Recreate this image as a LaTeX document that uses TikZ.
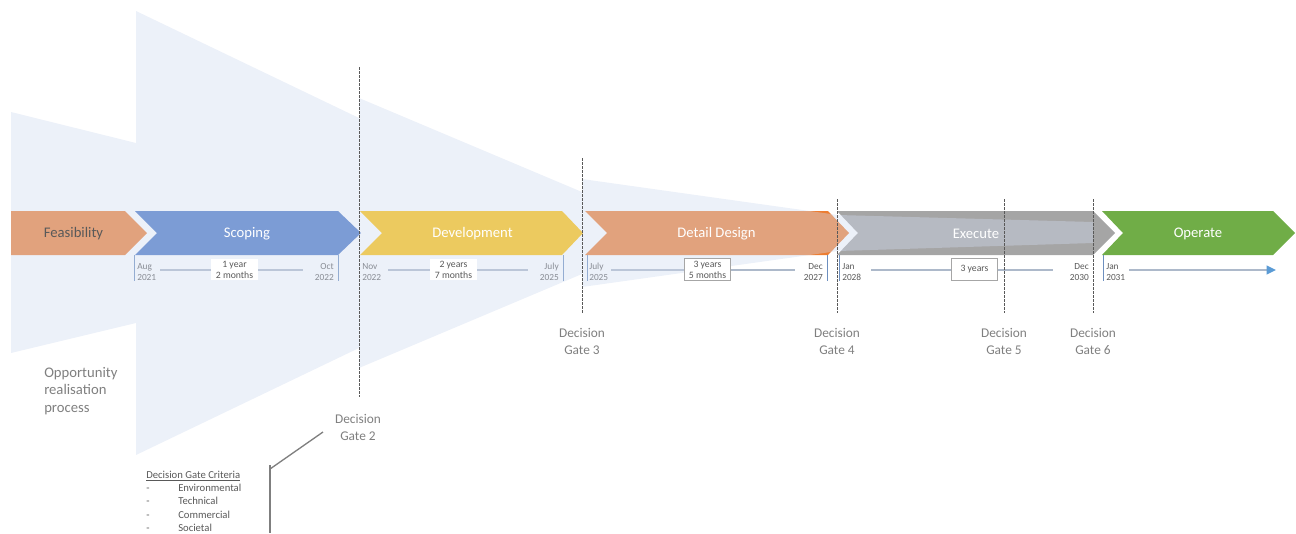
\documentclass[tikz,border=0pt]{standalone}
\usepackage{fontspec}
\setmainfont{Carlito}
\usetikzlibrary{arrows.meta}
\definecolor{cOrange}{HTML}{ED7D31}
\definecolor{cBlue}{HTML}{4472C4}
\definecolor{cGold}{HTML}{FFC000}
\definecolor{cGray}{HTML}{A5A5A5}
\definecolor{cGreen}{HTML}{70AD47}
\definecolor{cVeil}{HTML}{D0DBEF}
\definecolor{cText}{HTML}{595959}
\definecolor{cLabel}{HTML}{7F7F7F}
\definecolor{cLine}{HTML}{ADB9CA}
\definecolor{cTick}{HTML}{6D8FBF}
\definecolor{cArrow}{HTML}{5B9BD5}
\definecolor{cBoxEdge}{HTML}{A6A6A6}
\tikzset{
  phase/.style={font=\fontsize{11}{13}\selectfont, text=white, inner sep=0},
  datel/.style={font=\fontsize{7}{8.3}\selectfont, text=cText, align=left, anchor=west, inner sep=0},
  dater/.style={font=\fontsize{7}{8.3}\selectfont, text=cText, align=right, anchor=east, inner sep=0},
  tline/.style={draw=cLine, line width=1.5pt},
  tick/.style={draw=cTick, line width=0.75pt},
  durbox/.style={fill=white, font=\fontsize{7.3}{8.3}\selectfont, text=cText, align=center, minimum width=35pt, minimum height=16pt, inner sep=0.5pt},
  gatelab/.style={font=\fontsize{10}{12.8}\selectfont, text=cLabel, align=center, inner sep=0},
  gateline/.style={draw=cText, line width=0.7pt, dash pattern=on 2pt off 1pt},
  callout/.style={draw=cLabel, line width=1pt},
}
\begin{document}
\begin{tikzpicture}[x=0.75pt,y=-0.75pt]
\useasboundingbox (0,0) rectangle (1296,533);
% chevrons
\fill[cOrange] (11,211) -- (125,211) -- (147,233) -- (125,255) -- (11,255) -- cycle;
\fill[cBlue] (135,211) -- (338,211) -- (361,233) -- (338,255) -- (135,255) -- (157,233) -- cycle;
\fill[cGold] (360,211) -- (562,211) -- (583,233) -- (562,255) -- (360,255) -- (382,233) -- cycle;
\fill[cOrange] (585,211) -- (828,211) -- (849,233) -- (828,255) -- (585,255) -- (607,233) -- cycle;
\fill[cGray] (837,211) -- (1093,211) -- (1115,233) -- (1093,255) -- (837,255) -- (858,233) -- cycle;
\fill[cGreen] (1102,211) -- (1273,211) -- (1295,233) -- (1273,255) -- (1102,255) -- (1123,233) -- cycle;
% ticks
\foreach \x in {134,338,563,587,827,839,1103} {\draw[tick] (\x,255) -- (\x,281);}
% dates
\node[datel] (d1) at (137,272) {Aug\\2021};
\node[dater] (d2) at (334,272) {Oct\\2022};
\node[datel] (d3) at (362,272) {Nov\\2022};
\node[dater] (d4) at (559,272) {July\\2025};
\node[datel] (d5) at (589,272) {July\\2025};
\node[dater] (d6) at (823,272) {Dec\\2027};
\node[datel] (d7) at (842,272) {Jan\\2028};
\node[dater] (d8) at (1089,272) {Dec\\2030};
\node[datel] (d9) at (1106,272) {Jan\\2031};
% timeline lines
\coordinate (l1a) at (160,270); \coordinate (l1b) at (303,270);
\coordinate (l2a) at (388,270); \coordinate (l2b) at (528,270);
\coordinate (l3a) at (611,270); \coordinate (l3b) at (795,270);
\coordinate (l4a) at (871,270); \coordinate (l4b) at (1053,270);
\coordinate (l5a) at (1129,270); \coordinate (l5b) at (1276,270);
\draw[tline] (l1a) -- (l1b);
\draw[tline] (l2a) -- (l2b);
\draw[tline] (l3a) -- (l3b);
\draw[tline] (l4a) -- (l4b);
\draw[tline, -{Triangle[length=7pt,width=6.5pt,color=cArrow]}] (l5a) -- (l5b);
% funnel veil
\fill[cVeil, fill opacity=0.4] (11,112) -- (136,143) -- (136,11) -- (359,118) -- (359,98) -- (582,192) -- (582,179) -- (838,215) -- (1093,222) -- (1093,243) -- (838,251) -- (582,287) -- (582,274) -- (359,368) -- (359,348) -- (136,455) -- (136,323) -- (11,353) -- cycle;
% duration boxes
\node[durbox] (b1) at (234.5,269.5) {1 year\\2 months};
\node[durbox] (b2) at (453.5,269.5) {2 years\\7 months};
\node[durbox, draw=cBoxEdge, line width=0.6pt] (b3) at (707.5,269.5) {3 years\\5 months};
\node[durbox, draw=cBoxEdge, line width=0.6pt, minimum height=16.5pt] (b4) at (974.5,269) {3 years};
% phase labels
\node[phase, text=cText] (feas) at (73.5,234) {Feasibility};
\node[phase] (scop) at (247,234) {Scoping};
\node[phase] (dev) at (472.5,234) {Development};
\node[phase] (det) at (716.5,234) {Detail Design};
\node[phase] (exe) at (976,234) {Execute};
\node[phase] (ope) at (1198,234) {Operate};
% gate lines
\coordinate (g2t) at (359,67);  \coordinate (g2b) at (359,397);
\coordinate (g3t) at (582,158); \coordinate (g3b) at (582,313);
\coordinate (g4t) at (837,199); \coordinate (g4b) at (837,313);
\coordinate (g5t) at (1004,199); \coordinate (g5b) at (1004,313);
\coordinate (g6t) at (1093,199); \coordinate (g6b) at (1093,313);
\draw[gateline] (g2t) -- (g2b);
\draw[gateline] (g3t) -- (g3b);
\draw[gateline] (g4t) -- (g4b);
\draw[gateline] (g5t) -- (g5b);
\draw[gateline] (g6t) -- (g6b);
% gate labels
\node[gatelab] (g2) at (358,427) {Decision\\Gate 2};
\node[gatelab] (g3) at (582,341) {Decision\\Gate 3};
\node[gatelab] (g4) at (837,341) {Decision\\Gate 4};
\node[gatelab] (g5) at (1004,341) {Decision\\Gate 5};
\node[gatelab] (g6) at (1093,341) {Decision\\Gate 6};
% callout
\coordinate (c1) at (323,432);
\coordinate (c2) at (270,469);
\coordinate (c3) at (270,465);
\coordinate (c4) at (270,533);
\draw[callout] (c1) -- (c2);
\draw[callout] (c3) -- (c4);
% criteria
\node[anchor=north west, align=left, font=\fontsize{8}{10}\selectfont, text=cText, inner sep=0] (crit) at (146,470.5)
 {\underline{Decision Gate Criteria}\\\makebox[24pt][l]{-}Environmental\\\makebox[24pt][l]{-}Technical\\\makebox[24pt][l]{-}Commercial\\\makebox[24pt][l]{-}Societal};
% opportunity
\node[anchor=west, align=left, font=\fontsize{11}{13.1}\selectfont, text=cLabel, inner sep=0] (opp) at (44,391) {Opportunity\\realisation\\process};
\end{tikzpicture}
\end{document}
